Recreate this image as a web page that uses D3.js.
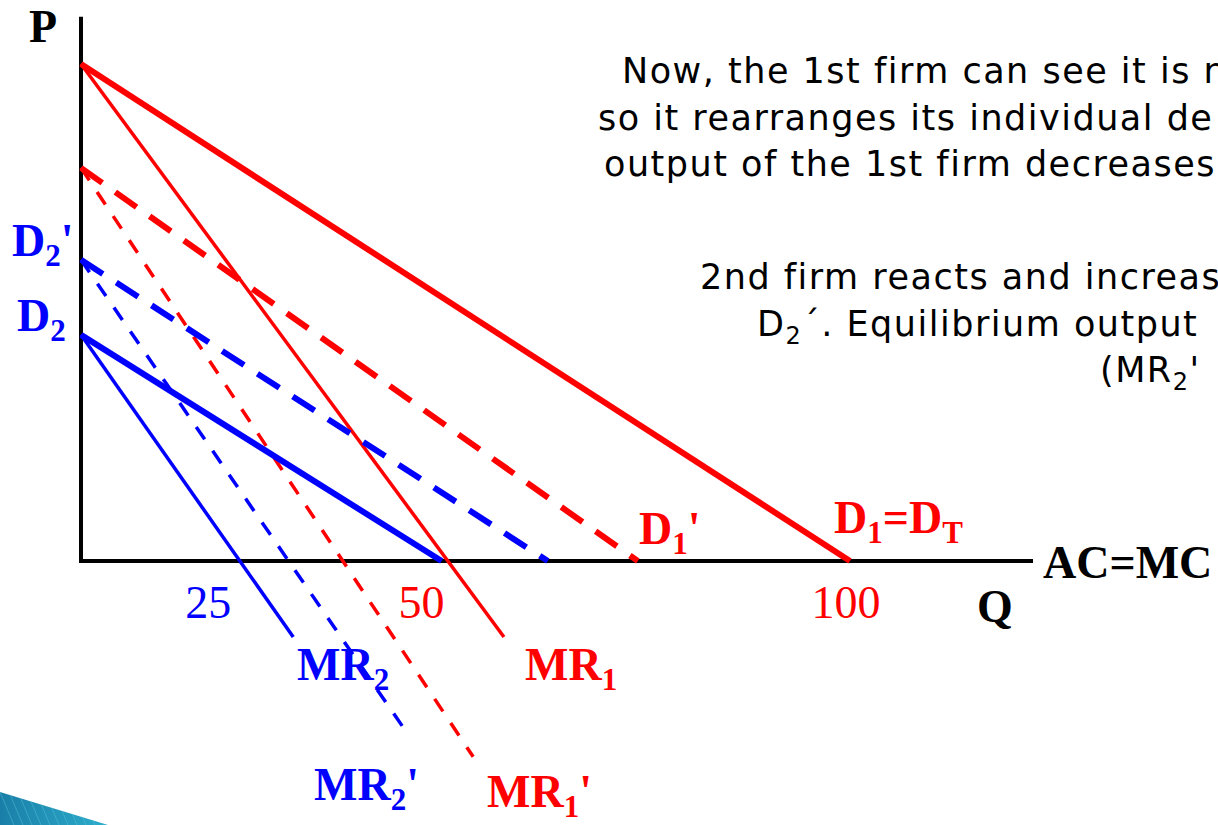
<!DOCTYPE html>
<html>
<head>
<meta charset="utf-8">
<script src="https://cdn.jsdelivr.net/npm/d3@7"></script>
<style>
  html, body { margin: 0; padding: 0; background: #fff; overflow: hidden; }
  svg { display: block; }
</style>
</head>
<body>
<div id="chart"></div>
<script>
// Cournot duopoly: firm 1 cuts output, firm 2 expands (D2 -> D2')

// Curves, in (Q, P) units. MR lines run below the Q axis.
const curveNames = ['D1', 'MR1', "D1'", "MR1'", "D2'", "MR2'", 'D2', 'MR2'];
const curveStart = [[0, 100], [0, 100], [0, 79.1], [0, 79.1], [0, 60.6], [0, 60.6], [0, 45.5], [0, 45.5]];
const curveEnd = [[100, 0], [55, -15.3], [72.4, 0], [51, -39.4], [60.7, 0], [42.4, -34.6], [46.9, 0], [27.6, -15.3]];

// Q axis tick labels
const tickValues = [25, 50, 100];
const tickLabels = ['25', '50', '100'];

// Axis extents
const axisMaxQ = 123.8;
const axisMaxP = 109.5;

// Explanation text lines (the slide is cut at the right edge)
const noteLines = [
    'Now, the 1st firm can see it is n',
    'so it rearranges its individual de',
    'output of the 1st firm decreases',
    '2nd firm reacts and increas'
];

const W = 1218, H = 825;
const RED = '#ff0000', BLUE = '#0000ff';

const x = d3.scaleLinear().domain([0, 100]).range([81, 850]);
const y = d3.scaleLinear().domain([0, 100]).range([561, 64]);

const svg = d3.select('#chart').append('svg')
    .attr('width', W)
    .attr('height', H);

// Slide decoration in the bottom left corner
const defs = svg.append('defs');
const grad = defs.append('linearGradient')
    .attr('id', 'corner-grad')
    .attr('x1', '0%').attr('x2', '100%')
    .attr('y1', '0%').attr('y2', '0%');
grad.append('stop').attr('offset', '0%').attr('stop-color', '#1a7fa8');
grad.append('stop').attr('offset', '100%').attr('stop-color', '#2fb2cf');
defs.append('clipPath').attr('id', 'corner-clip')
    .append('path').attr('d', 'M0,792 L108,825 L0,825 Z');

const corner = svg.append('g').attr('clip-path', 'url(#corner-clip)');
corner.append('rect')
    .attr('x', 0).attr('y', 785).attr('width', 120).attr('height', 40)
    .attr('fill', 'url(#corner-grad)');
d3.range(0, 120, 9).forEach(d => {
    corner.append('line')
        .attr('x1', d).attr('y1', 792)
        .attr('x2', d + 14).attr('y2', 825)
        .attr('stroke', '#5cc6dc')
        .attr('stroke-opacity', 0.45)
        .attr('stroke-width', 1);
});

// Axes
svg.append('line')
    .attr('x1', x(0)).attr('y1', y(0))
    .attr('x2', x(0)).attr('y2', y(axisMaxP))
    .attr('stroke', '#000').attr('stroke-width', 4);
svg.append('line')
    .attr('x1', x(0) - 2).attr('y1', y(0))
    .attr('x2', x(axisMaxQ)).attr('y2', y(0))
    .attr('stroke', '#000').attr('stroke-width', 4);

// Curves
function curveStyle(name) {
    const blue = name.includes('2');
    const isMR = name.startsWith('MR');
    const dashed = name.includes("'");
    return {
        color: blue ? BLUE : RED,
        width: isMR ? 3.5 : 6,
        dash: dashed ? (isMR ? '15,14' : '26,16') : null
    };
}

const curves = curveNames.map((name, i) => ({
    name,
    start: curveStart[i],
    end: curveEnd[i]
}));

svg.selectAll('.curve')
    .data(curves)
    .enter()
    .append('line')
    .attr('class', 'curve')
    .attr('x1', d => x(d.start[0]))
    .attr('y1', d => y(d.start[1]))
    .attr('x2', d => x(d.end[0]))
    .attr('y2', d => y(d.end[1]))
    .attr('stroke', d => curveStyle(d.name).color)
    .attr('stroke-width', d => curveStyle(d.name).width)
    .attr('stroke-dasharray', d => curveStyle(d.name).dash);

// Tick labels (hand placed on the slide, nudged from the scale)
const tickNudge = [-65, -44, -4];
const tickColor = [BLUE, RED, RED];
svg.selectAll('.tick-label')
    .data(tickValues)
    .enter()
    .append('text')
    .attr('class', 'tick-label')
    .attr('x', (d, i) => x(d) + tickNudge[i])
    .attr('y', 618)
    .attr('text-anchor', 'middle')
    .style('font-family', '"Liberation Serif", "Times New Roman", serif')
    .style('font-size', '46px')
    .style('fill', (d, i) => tickColor[i])
    .text((d, i) => tickLabels[i]);

// Bold serif labels with subscripts
function label(px, py, color, parts) {
    const t = svg.append('text')
        .attr('x', px).attr('y', py)
        .style('font-family', '"Liberation Serif", "Times New Roman", serif')
        .style('font-weight', 'bold')
        .style('font-size', '46px')
        .style('fill', color);
    let shift = 0;
    parts.forEach(p => {
        const sub = p.sub === true;
        const dy = sub ? 10 - shift : -shift;
        shift = sub ? 10 : 0;
        t.append('tspan')
            .attr('dy', dy)
            .style('font-size', sub ? '31px' : '46px')
            .text(p.t);
    });
}

label(12, 256, BLUE, [{ t: 'D' }, { t: '2', sub: true }, { t: "'" }]);
label(17, 331, BLUE, [{ t: 'D' }, { t: '2', sub: true }]);
label(29, 42, '#000', [{ t: 'P' }]);
label(639, 544, RED, [{ t: 'D' }, { t: '1', sub: true }, { t: "'" }]);
label(834, 533, RED, [{ t: 'D' }, { t: '1', sub: true }, { t: '=D' }, { t: 'T', sub: true }]);
label(1043, 578, '#000', [{ t: 'AC=MC' }]);
label(977, 622, '#000', [{ t: 'Q' }]);
label(297, 680, BLUE, [{ t: 'MR' }, { t: '2', sub: true }]);
label(525, 680, RED, [{ t: 'MR' }, { t: '1', sub: true }]);
label(314, 800, BLUE, [{ t: 'MR' }, { t: '2', sub: true }, { t: "'" }]);
label(487, 807, RED, [{ t: 'MR' }, { t: '1', sub: true }, { t: "'" }]);

// Explanation text
const noteFont = '"DejaVu Sans", Verdana, sans-serif';
const noteX = [622, 598, 604, 700];
const noteY = [83, 130, 176, 289];
function note(px, py) {
    return svg.append('text')
        .attr('x', px).attr('y', py)
        .style('font-family', noteFont)
        .style('font-size', '35px')
        .style('letter-spacing', '1.5px')
        .style('fill', '#000');
}
noteLines.forEach((line, i) => {
    note(noteX[i], noteY[i]).text(line);
});

const eq = note(757, 336);
eq.append('tspan').text('D');
eq.append('tspan').attr('dy', 8).style('font-size', '24px').text('2');
eq.append('tspan').attr('dy', -8).text('\u00b4. Equilibrium output');

const mr = note(1100, 382);
mr.append('tspan').text('(MR');
mr.append('tspan').attr('dy', 8).style('font-size', '24px').text('2');
mr.append('tspan').attr('dy', -8).text("'");
</script>
</body>
</html>
